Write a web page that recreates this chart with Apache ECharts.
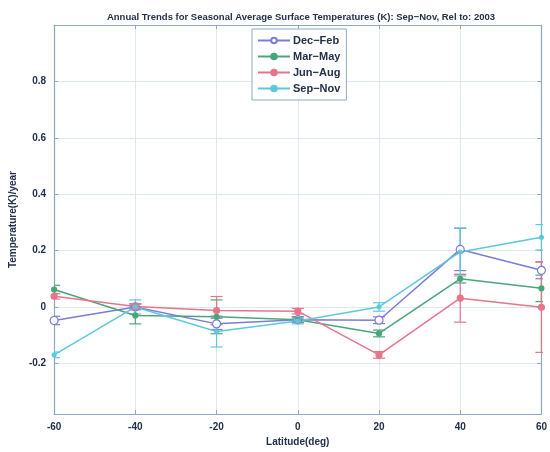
<!DOCTYPE html>
<html>
<head>
<meta charset="utf-8">
<script src="https://cdn.jsdelivr.net/npm/echarts@6/dist/echarts.min.js"></script>
<style>
  html, body { margin: 0; padding: 0; background: #fff; }
  #chart { width: 550px; height: 452px; }
</style>
</head>
<body>
<div id="chart"></div>
<script>
// 纬度（x 轴）
var lats = [-60, -40, -20, 0, 20, 40, 60];

// 各季节的趋势值 (K/year)
var decFeb = [-0.048, 0.0, -0.06, -0.045, -0.047, 0.204, 0.13];
var marMay = [0.062, -0.03, -0.035, -0.045, -0.094, 0.10, 0.066];
var junAug = [0.038, 0.002, -0.013, -0.015, -0.17, 0.031, -0.001];
var sepNov = [-0.17, 0.0, -0.087, -0.05, 0.0, 0.195, 0.247];

// 误差棒（半宽）
var decFebErr = [0.015, 0.01, 0.02, 0.01, 0.012, 0.075, 0.03];
var marMayErr = [0.015, 0.03, 0.06, 0.01, 0.012, 0.015, 0.047];
var junAugErr = [0.01, 0.01, 0.05, 0.01, 0.012, 0.085, 0.16];
var sepNovErr = [0.01, 0.025, 0.055, 0.01, 0.015, 0.085, 0.045];

var yTicks = [-0.2, 0, 0.2, 0.4, 0.6, 0.8];

var seasons = [
  { name: 'Dec\u2212Feb', vals: decFeb, err: decFebErr, color: '#7d7bd8', size: 8, hollow: true },
  { name: 'Mar\u2212May', vals: marMay, err: marMayErr, color: '#4aa67a', size: 5, hollow: false },
  { name: 'Jun\u2212Aug', vals: junAug, err: junAugErr, color: '#e6758a', size: 6, hollow: false },
  { name: 'Sep\u2212Nov', vals: sepNov, err: sepNovErr, color: '#5ec8dc', size: 4, hollow: false }
];

var axisColor = '#8da9c2';
var textColor = '#23304a';
var gridColor = '#dde8f1';

var series = [];
seasons.forEach(function (s) {
  var pts = lats.map(function (x, i) { return [x, s.vals[i]]; });
  var bars = lats.map(function (x, i) { return [x, s.vals[i] - s.err[i], s.vals[i] + s.err[i]]; });
  // 误差棒
  series.push({
    name: s.name + ' err',
    type: 'custom',
    data: bars,
    clip: true,
    silent: true,
    z: 2,
    itemStyle: { color: s.color },
    renderItem: function (params, api) {
      var lo = api.coord([api.value(0), api.value(1)]);
      var hi = api.coord([api.value(0), api.value(2)]);
      var w = 6;
      var st = { stroke: s.color, lineWidth: 1.2 };
      return {
        type: 'group',
        children: [
          { type: 'line', shape: { x1: lo[0], y1: lo[1], x2: hi[0], y2: hi[1] }, style: st },
          { type: 'line', shape: { x1: lo[0] - w, y1: lo[1], x2: lo[0] + w, y2: lo[1] }, style: st },
          { type: 'line', shape: { x1: hi[0] - w, y1: hi[1], x2: hi[0] + w, y2: hi[1] }, style: st }
        ]
      };
    }
  });
  series.push({
    name: s.name,
    type: 'line',
    data: pts,
    symbol: 'circle',
    symbolSize: s.size,
    showAllSymbol: true,
    clip: false,
    z: 3,
    color: s.color,
    lineStyle: { color: s.color, width: 1.5 },
    itemStyle: { color: s.hollow ? '#fff' : s.color, borderColor: s.color, borderWidth: 1.2 }
  });
});

var chart = echarts.init(document.getElementById('chart'));
chart.setOption({
  backgroundColor: '#fff',
  animation: false,
  title: {
    text: 'Annual Trends for Seasonal Average Surface Temperatures (K): Sep\u2212Nov, Rel to: 2003',
    left: 296,
    top: 7,
    textAlign: 'center',
    textStyle: { fontFamily: 'Liberation Sans', fontSize: 9.5, fontWeight: 'bold', color: textColor }
  },
  legend: {
    orient: 'vertical',
    left: 252,
    top: 29,
    padding: [5, 6, 5, 5],
    itemGap: 3,
    itemWidth: 32,
    itemHeight: 7,
    backgroundColor: '#fff',
    borderColor: axisColor,
    borderWidth: 1,
    borderRadius: 0,
    data: seasons.map(function (s) { return s.name; }),
    textStyle: { fontFamily: 'Liberation Sans', fontSize: 11, fontWeight: 'bold', color: textColor, lineHeight: 13, padding: [0, 0, 0, -2] }
  },
  grid: { left: 48, right: 5, top: 25, bottom: 35 },
  xAxis: [{
    type: 'value',
    min: -60, max: 60, interval: 20,
    name: 'Latitude(deg)',
    nameLocation: 'middle',
    nameGap: 20,
    nameTextStyle: { fontFamily: 'Liberation Sans', fontSize: 10, fontWeight: 'bold', color: textColor },
    axisLine: { show: true, onZero: false, lineStyle: { color: axisColor, width: 1.2 } },
    axisTick: { show: true, inside: true, length: 4, lineStyle: { color: axisColor } },
    axisLabel: { fontFamily: 'Liberation Sans', fontSize: 10, fontWeight: 'bold', color: textColor, margin: 8 },
    splitLine: { show: true, lineStyle: { color: gridColor, width: 1 } }
  }, {
    type: 'value', position: 'top',
    min: -60, max: 60, interval: 20,
    axisLine: { show: true, onZero: false, lineStyle: { color: axisColor, width: 1.2 } },
    axisTick: { show: true, inside: true, length: 4, lineStyle: { color: axisColor } },
    axisLabel: { show: false },
    splitLine: { show: false }
  }],
  yAxis: [{
    type: 'value',
    min: -0.38, max: 1.0,
    name: 'Temperature(K)/year',
    nameLocation: 'middle',
    nameGap: 29,
    nameTextStyle: { fontFamily: 'Liberation Sans', fontSize: 10, fontWeight: 'bold', color: textColor },
    axisLine: { show: true, onZero: false, lineStyle: { color: axisColor, width: 1.2 } },
    axisTick: { show: true, inside: true, length: 4, customValues: yTicks, lineStyle: { color: axisColor } },
    axisLabel: {
      customValues: yTicks,
      fontFamily: 'Liberation Sans', fontSize: 10, fontWeight: 'bold', color: textColor, margin: 8,
      formatter: function (v) { return v === 0 ? '0' : String(Math.round(v * 10) / 10); }
    },
    splitLine: { show: true, lineStyle: { color: gridColor, width: 1 } }
  }, {
    type: 'value', position: 'right',
    min: -0.38, max: 1.0,
    axisLine: { show: true, onZero: false, lineStyle: { color: axisColor, width: 1.2 } },
    axisTick: { show: true, inside: true, length: 4, customValues: yTicks, lineStyle: { color: axisColor } },
    axisLabel: { show: false },
    splitLine: { show: false }
  }],
  series: series
});
</script>
</body>
</html>
